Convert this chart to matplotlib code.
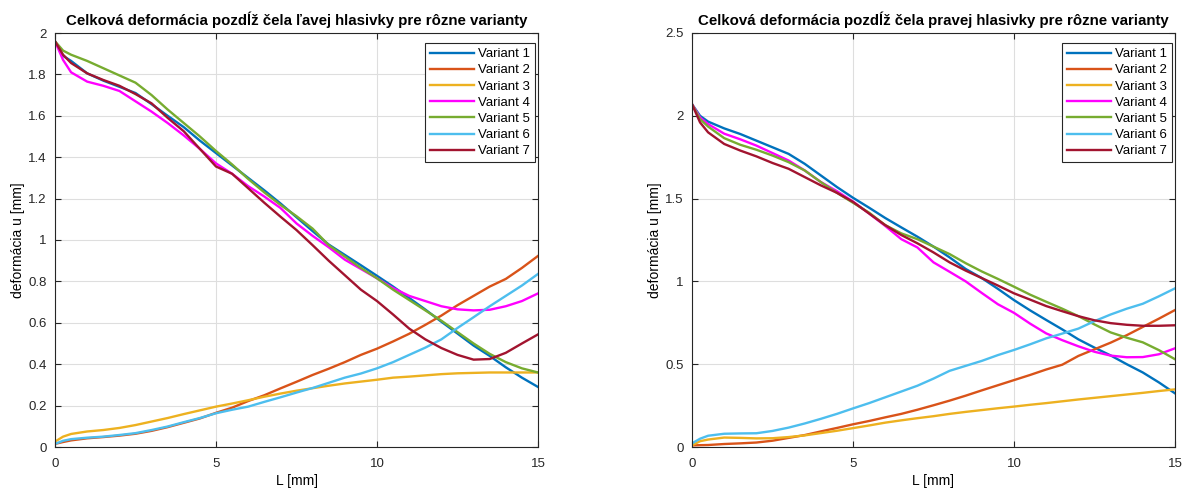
import matplotlib
matplotlib.use("Agg")
import matplotlib.pyplot as plt

plt.rcParams['font.family'] = ['Liberation Sans', 'DejaVu Sans']

x = [0, 0.25, 0.5, 1, 1.5, 2, 2.5, 3, 3.5, 4, 4.5, 5, 5.5, 6, 6.5, 7, 7.5,
     8, 8.5, 9, 9.5, 10, 10.5, 11, 11.5, 12, 12.5, 13, 13.5, 14, 14.5, 15]

labels = ["Variant 1", "Variant 2", "Variant 3", "Variant 4", "Variant 5", "Variant 6", "Variant 7"]
colors = ["#0072BD", "#D95319", "#EDB120", "#FF00FF", "#77AC30", "#4DBEEE", "#A2142F"]

# Left vocal fold
left_v1 = [1.96, 1.89, 1.865, 1.805, 1.77, 1.74, 1.71, 1.656, 1.60, 1.545, 1.48, 1.42, 1.36, 1.30, 1.24, 1.177, 1.11,
           1.043, 0.978, 0.928, 0.878, 0.827, 0.775, 0.72, 0.664, 0.605, 0.548, 0.49, 0.44, 0.385, 0.335, 0.29]
left_v2 = [0.015, 0.024, 0.032, 0.042, 0.048, 0.055, 0.064, 0.078, 0.096, 0.117, 0.138, 0.165, 0.19, 0.222, 0.25, 0.283, 0.315,
           0.348, 0.378, 0.41, 0.445, 0.475, 0.51, 0.547, 0.59, 0.635, 0.685, 0.73, 0.775, 0.812, 0.865, 0.923]
left_v3 = [0.026, 0.05, 0.063, 0.075, 0.082, 0.092, 0.106, 0.123, 0.14, 0.159, 0.177, 0.195, 0.21, 0.226, 0.243, 0.258, 0.272,
           0.284, 0.296, 0.307, 0.316, 0.325, 0.335, 0.34, 0.346, 0.352, 0.356, 0.358, 0.36, 0.36, 0.36, 0.36]
left_v4 = [1.96, 1.87, 1.81, 1.765, 1.745, 1.72, 1.67, 1.62, 1.565, 1.505, 1.44, 1.37, 1.32, 1.26, 1.21, 1.155, 1.08,
           1.02, 0.965, 0.905, 0.86, 0.815, 0.768, 0.73, 0.705, 0.68, 0.665, 0.66, 0.663, 0.68, 0.705, 0.742]
left_v5 = [1.96, 1.915, 1.895, 1.865, 1.83, 1.795, 1.76, 1.70, 1.63, 1.565, 1.50, 1.43, 1.365, 1.295, 1.23, 1.17, 1.115,
           1.055, 0.975, 0.92, 0.865, 0.815, 0.76, 0.71, 0.66, 0.61, 0.555, 0.50, 0.45, 0.41, 0.38, 0.36]
left_v6 = [0.015, 0.03, 0.038, 0.045, 0.05, 0.058, 0.067, 0.082, 0.099, 0.12, 0.14, 0.163, 0.18, 0.195, 0.218, 0.24, 0.263,
           0.285, 0.31, 0.335, 0.355, 0.38, 0.41, 0.445, 0.48, 0.52, 0.575, 0.627, 0.68, 0.73, 0.78, 0.836]
left_v7 = [1.96, 1.895, 1.855, 1.805, 1.773, 1.745, 1.705, 1.66, 1.59, 1.525, 1.44, 1.355, 1.32, 1.25, 1.18, 1.113, 1.048,
           0.975, 0.90, 0.83, 0.76, 0.705, 0.64, 0.572, 0.52, 0.478, 0.445, 0.422, 0.425, 0.455, 0.50, 0.544]

# Right vocal fold
right_v1 = [2.07, 2.0, 1.965, 1.924, 1.89, 1.85, 1.81, 1.77, 1.71, 1.64, 1.57, 1.505, 1.445, 1.383, 1.326, 1.27, 1.21,
            1.145, 1.075, 1.02, 0.955, 0.887, 0.825, 0.767, 0.71, 0.65, 0.60, 0.553, 0.50, 0.45, 0.39, 0.324]
right_v2 = [0.01, 0.011, 0.012, 0.018, 0.022, 0.027, 0.038, 0.055, 0.072, 0.094, 0.115, 0.137, 0.157, 0.179, 0.2, 0.225, 0.252,
            0.28, 0.31, 0.342, 0.373, 0.404, 0.435, 0.468, 0.497, 0.55, 0.59, 0.63, 0.675, 0.725, 0.775, 0.827]
right_v3 = [0.01, 0.035, 0.045, 0.057, 0.055, 0.052, 0.053, 0.06, 0.07, 0.084, 0.098, 0.114, 0.13, 0.147, 0.161, 0.174, 0.186,
            0.2, 0.212, 0.223, 0.234, 0.244, 0.255, 0.265, 0.276, 0.287, 0.297, 0.307, 0.317, 0.327, 0.338, 0.348]
right_v4 = [2.07, 1.99, 1.95, 1.892, 1.858, 1.82, 1.775, 1.73, 1.67, 1.60, 1.545, 1.482, 1.41, 1.335, 1.255, 1.205, 1.115,
            1.058, 1.0, 0.93, 0.862, 0.81, 0.745, 0.686, 0.645, 0.608, 0.575, 0.552, 0.542, 0.543, 0.56, 0.596]
right_v5 = [2.07, 1.98, 1.935, 1.865, 1.825, 1.795, 1.76, 1.72, 1.67, 1.60, 1.535, 1.475, 1.415, 1.34, 1.29, 1.255, 1.21,
            1.165, 1.11, 1.06, 1.015, 0.968, 0.92, 0.877, 0.835, 0.79, 0.74, 0.692, 0.66, 0.632, 0.585, 0.53]
right_v6 = [0.022, 0.05, 0.068, 0.08, 0.082, 0.083, 0.097, 0.117, 0.142, 0.17, 0.2, 0.233, 0.265, 0.30, 0.335, 0.37, 0.413,
            0.46, 0.49, 0.52, 0.555, 0.586, 0.62, 0.656, 0.685, 0.715, 0.76, 0.80, 0.835, 0.865, 0.91, 0.958]
right_v7 = [2.07, 1.96, 1.90, 1.83, 1.79, 1.755, 1.715, 1.68, 1.63, 1.58, 1.535, 1.48, 1.41, 1.34, 1.28, 1.23, 1.175,
            1.115, 1.065, 1.02, 0.975, 0.928, 0.89, 0.851, 0.82, 0.79, 0.765, 0.748, 0.738, 0.732, 0.732, 0.735]

left_series = [left_v1, left_v2, left_v3, left_v4, left_v5, left_v6, left_v7]
right_series = [right_v1, right_v2, right_v3, right_v4, right_v5, right_v6, right_v7]

title_left = "Celková deformácia pozdĺž čela ľavej hlasivky pre rôzne varianty"
title_right = "Celková deformácia pozdĺž čela pravej hlasivky pre rôzne varianty"
xlabel = "L [mm]"
ylabel = "deformácia u [mm]"
xticks = [0, 5, 10, 15]
yticks_left = [0, 0.2, 0.4, 0.6, 0.8, 1, 1.2, 1.4, 1.6, 1.8, 2]
yticks_right = [0, 0.5, 1, 1.5, 2, 2.5]

fig = plt.figure(figsize=(11.88, 4.88), dpi=100)
axL = fig.add_axes([55/1188, 41/488, 483/1188, 414/488])
axR = fig.add_axes([692/1188, 41/488, 483/1188, 414/488])

def style(ax, series, title, yticks, ymax):
    for s, lab, c in zip(series, labels, colors):
        ax.plot(x, s, color=c, lw=1.7, label=lab)
    ax.set_xlim(0, 15)
    ax.set_ylim(0, ymax)
    ax.set_xticks(xticks)
    ax.set_yticks(yticks)
    ax.set_yticklabels([f"{t:g}" for t in yticks])
    ax.grid(True, color="#dedede", lw=0.8)
    ax.set_axisbelow(True)
    ax.tick_params(direction="in", top=True, right=True, length=4, width=0.8,
                   labelsize=9.5, colors="#262626")
    ax.tick_params(axis="x", pad=8)
    ax.tick_params(axis="y", pad=6)
    for sp in ax.spines.values():
        sp.set_color("#262626")
        sp.set_linewidth(0.8)
    ax.set_title(title, fontsize=10.8, fontweight="bold", pad=6)
    ax.set_xlabel(xlabel, fontsize=10, labelpad=3)
    ax.set_ylabel(ylabel, fontsize=10, labelpad=2)
    leg = ax.legend(loc="upper right", bbox_to_anchor=(480/483, 404/414),
                    fontsize=9.5, handlelength=3.3, labelspacing=0.3,
                    borderaxespad=0, fancybox=False, framealpha=1, borderpad=0.38,
                    handletextpad=0.3)
    leg.get_frame().set_edgecolor("#262626")
    leg.get_frame().set_linewidth(0.8)

style(axL, left_series, title_left, yticks_left, 2)
style(axR, right_series, title_right, yticks_right, 2.5)

fig.savefig("out.png", dpi=100)
